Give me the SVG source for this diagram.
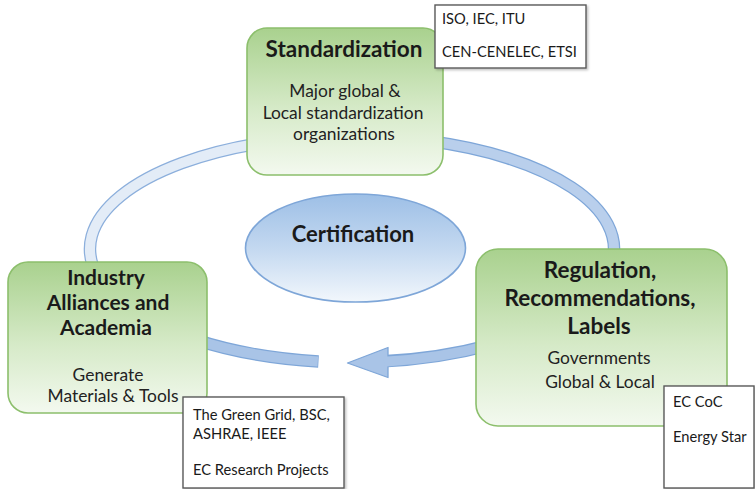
<svg xmlns="http://www.w3.org/2000/svg" width="755" height="489" viewBox="0 0 755 489">
  <defs>
    <linearGradient id="greenFill" x1="0" y1="0" x2="0" y2="1">
      <stop offset="0" stop-color="#a9d18e"/>
      <stop offset="0.55" stop-color="#d6eac8"/>
      <stop offset="1" stop-color="#f3f9ef"/>
    </linearGradient>
    <linearGradient id="blueFill" x1="0" y1="0" x2="0" y2="1">
      <stop offset="0" stop-color="#9dbfe6"/>
      <stop offset="0.5" stop-color="#c3d8f0"/>
      <stop offset="1" stop-color="#f2f7fc"/>
    </linearGradient>
    <filter id="shadow" x="-10%" y="-10%" width="130%" height="130%">
      <feDropShadow dx="1.5" dy="1.5" stdDeviation="1" flood-color="#000" flood-opacity="0.25"/>
    </filter>
  </defs>
  <style>
    .box { fill: url(#greenFill); stroke: #8cbf6c; stroke-width: 1.6; }
    .note { fill: #ffffff; stroke: #5a5a5a; stroke-width: 1.4; filter: url(#shadow); }
    .title { font-family: Lato, "Liberation Sans", sans-serif; font-weight: bold; fill: #1a1a1a; text-anchor: middle; }
    .sub { font-family: Lato, "Liberation Sans", sans-serif; font-size: 17.4px; fill: #222222; text-anchor: middle; }
    .small { font-family: Lato, "Liberation Sans", sans-serif; font-size: 14.7px; fill: #1a1a1a; }
    .ringEdge { fill: none; stroke-width: 12.5; }
    .ringBody { fill: none; stroke-width: 10; }
  </style>

  <!-- connectors: elliptical ring around the certification hub -->
  <g id="connectors">
    <!-- upper-left arc (Industry -> Standardization) -->
    <path class="ringEdge" stroke="#8cafdc" d="M 260 143.2 A 262 113 0 0 0 97 275"/>
    <path class="ringBody" stroke="#e3ecf7" d="M 260 143.2 A 262 113 0 0 0 97 275"/>
    <!-- upper-right arc (Standardization -> Regulation) -->
    <path class="ringEdge" stroke="#7ea6d8" d="M 430 141.1 A 262 113 0 0 1 612.3 262"/>
    <path class="ringBody" stroke="#b9cfec" d="M 430 141.1 A 262 113 0 0 1 612.3 262"/>
    <!-- lower-left segment leaving Industry -->
    <path class="ringEdge" stroke="#7ea6d8" d="M 195 339.5 A 262 113 0 0 0 318.5 361.5"/>
    <path class="ringBody" stroke="#a9c4e7" d="M 195.5 339.7 A 262 113 0 0 0 317.8 361.4"/>
    <!-- lower-right arrow from Regulation toward Industry -->
    <path class="ringEdge" stroke="#7ea6d8" d="M 490 345 A 262 113 0 0 1 380 361.6"/>
    <polygon points="388,347.5 347.5,363 388,377.5" fill="#a9c4e7" stroke="#7ea6d8" stroke-width="1.3" stroke-linejoin="round"/>
    <path class="ringBody" stroke="#a9c4e7" d="M 490 345 A 262 113 0 0 1 384 361.7"/>
  </g>

  <!-- central hub -->
  <g id="certification">
    <ellipse cx="355.5" cy="248" rx="110" ry="54" fill="url(#blueFill)" stroke="#7ea6d8" stroke-width="1.6"/>
    <text class="title" x="353" y="242" font-size="22">Certification</text>
  </g>

  <g id="standardization">
    <rect class="box" x="247" y="28" width="196" height="147" rx="20" ry="20"/>
    <text class="title" x="344" y="57" font-size="22.5">Standardization</text>
    <text class="sub" x="345" y="97">Major global &amp;</text>
    <text class="sub" x="343" y="119">Local standardization</text>
    <text class="sub" x="344" y="140">organizations</text>
  </g>

  <g id="industry">
    <rect class="box" x="8" y="262" width="199" height="151" rx="20" ry="20"/>
    <text class="title" x="106" y="285" font-size="21">Industry</text>
    <text class="title" x="108" y="310" font-size="21">Alliances and</text>
    <text class="title" x="106" y="335" font-size="21">Academia</text>
    <text class="sub" x="108" y="381">Generate</text>
    <text class="sub" x="113" y="402">Materials &amp; Tools</text>
  </g>

  <g id="regulation">
    <rect class="box" x="476" y="249" width="251" height="177" rx="22" ry="22"/>
    <text class="title" x="600" y="278" font-size="22.5">Regulation,</text>
    <text class="title" x="600" y="306" font-size="22.5">Recommendations,</text>
    <text class="title" x="599" y="334" font-size="22.5">Labels</text>
    <text class="sub" x="599" y="364">Governments</text>
    <text class="sub" x="600" y="388">Global &amp; Local</text>
  </g>

  <!-- example organisations attached to each actor -->
  <g id="note-standardization">
    <rect class="note" x="435" y="5" width="151" height="63"/>
    <text class="small" x="442" y="24" font-size="13.4">ISO, IEC, ITU</text>
    <text class="small" x="442" y="57" font-size="13.4">CEN-CENELEC, ETSI</text>
  </g>

  <g id="note-industry">
    <rect class="note" x="183" y="397" width="161" height="91"/>
    <text class="small" x="193" y="420">The Green Grid, BSC,</text>
    <text class="small" x="193" y="439">ASHRAE, IEEE</text>
    <text class="small" x="193" y="475">EC Research Projects</text>
  </g>

  <g id="note-regulation">
    <rect class="note" x="664" y="386" width="90" height="102"/>
    <text class="small" x="673" y="407">EC CoC</text>
    <text class="small" x="673" y="442">Energy Star</text>
  </g>
</svg>
